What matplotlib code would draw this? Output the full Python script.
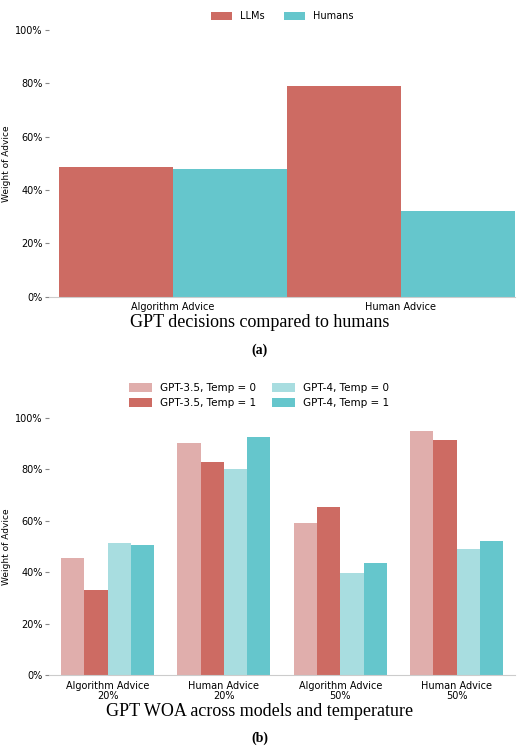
import matplotlib
matplotlib.use("Agg")
import matplotlib.pyplot as plt
import numpy as np

top_cats = ["Algorithm Advice", "Human Advice"]
llms = [48.5, 79.0]
humans = [48.0, 32.0]

bot_cats = ["Algorithm Advice\n20%", "Human Advice\n20%", "Algorithm Advice\n50%", "Human Advice\n50%"]
bot_labels = ["GPT-3.5, Temp = 0", "GPT-3.5, Temp = 1", "GPT-4, Temp = 0", "GPT-4, Temp = 1"]
bot_vals = [
    [45.5, 90.0, 59.0, 95.0],
    [33.0, 83.0, 65.5, 91.5],
    [51.5, 80.0, 39.5, 49.0],
    [50.5, 92.5, 43.5, 52.0],
]
red, cyan, lred, lcyan = "#cd6b63", "#65c6cc", "#e0aeac", "#a8dde0"
bot_colors = [lred, red, lcyan, cyan]

fig = plt.figure(figsize=(5.2, 7.46), dpi=100)

def style(ax):
    for s in ["top", "right", "left"]:
        ax.spines[s].set_visible(False)
    ax.spines["bottom"].set_color("#cccccc")
    ax.set_ylim(0, 100)
    ax.set_yticks([0, 20, 40, 60, 80, 100])
    ax.set_yticklabels([f"{v}%" for v in [0, 20, 40, 60, 80, 100]], fontsize=7)
    ax.tick_params(axis="x", length=0, labelsize=7, pad=4)
    ax.tick_params(axis="y", length=3, color="#888888", pad=2)
    ax.set_ylabel("Weight of Advice", fontsize=6.5, labelpad=3)

ax1 = fig.add_axes([0.095, 0.602, 0.895, 0.358])
x = np.arange(len(top_cats))
w = 0.5
ax1.bar(x - w/2, llms, w, color=red, label="LLMs")
ax1.bar(x + w/2, humans, w, color=cyan, label="Humans")
ax1.set_xticks(x)
ax1.set_xticklabels(top_cats)
ax1.set_xlim(-0.54, 1.5)
style(ax1)
ax1.legend(loc="lower center", bbox_to_anchor=(0.5, 1.0), ncol=2, frameon=False, fontsize=7,
           handlelength=2.2, handleheight=0.9)
fig.text(0.5, 1 - 323/746, "GPT decisions compared to humans", ha="center", va="center",
         fontsize=13, family="Liberation Serif")
fig.text(0.5, 1 - 350/746, "(a)", ha="center", va="center", fontsize=10,
         family="Liberation Serif", weight="bold")

ax2 = fig.add_axes([0.095, 0.095, 0.895, 0.345])
x = np.arange(len(bot_cats))
w = 0.2
for i, (vals, lab, c) in enumerate(zip(bot_vals, bot_labels, bot_colors)):
    ax2.bar(x + (i - 1.5) * w, vals, w, color=c, label=lab)
ax2.set_xticks(x)
ax2.set_xticklabels(bot_cats, linespacing=1.1)
ax2.set_xlim(-0.5, 3.5)
style(ax2)
ax2.legend(loc="lower center", bbox_to_anchor=(0.45, 1.0), ncol=2, frameon=False, fontsize=7.5,
           handlelength=2.2, handleheight=0.9, columnspacing=1.5)
fig.text(0.5, 1 - 712/746, "GPT WOA across models and temperature", ha="center", va="center",
         fontsize=13, family="Liberation Serif")
fig.text(0.5, 1 - 738/746, "(b)", ha="center", va="center", fontsize=10,
         family="Liberation Serif", weight="bold")

fig.savefig("out.png", dpi=100)
